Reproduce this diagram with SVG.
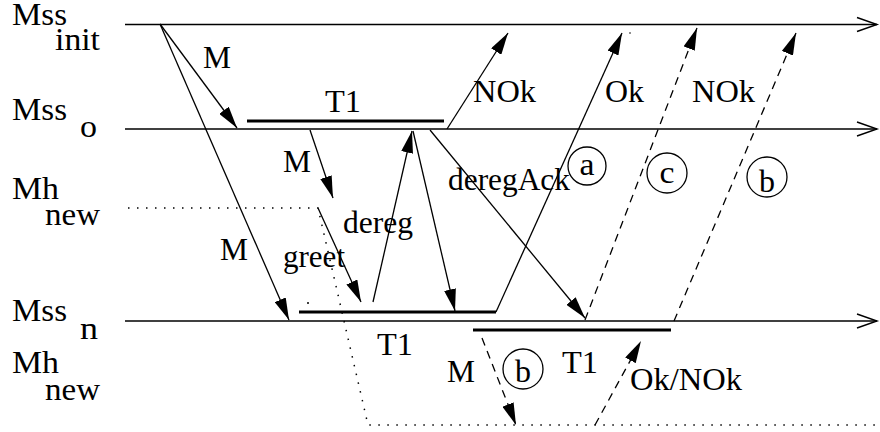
<svg xmlns="http://www.w3.org/2000/svg" width="880" height="432" viewBox="0 0 880 432">
  <style>
    text { font-family: "Liberation Serif", "Times New Roman", serif; font-size: 32px; fill: #000; }
    .axis { stroke: #000; stroke-width: 1.4; fill: none; }
    .msg { stroke: #000; stroke-width: 1.3; fill: none; marker-end: url(#head); }
    .dash { stroke: #000; stroke-width: 1.3; fill: none; stroke-dasharray: 8 6; marker-end: url(#head); }
    .dot { stroke: #000; stroke-width: 1.5; fill: none; stroke-dasharray: 1.5 7.5; }
    .timer { stroke: #000; stroke-width: 3; }
    .ring { stroke: #000; stroke-width: 1.3; fill: none; }
  </style>
  <defs>
    <marker id="head" markerUnits="userSpaceOnUse" markerWidth="23" markerHeight="12" refX="22" refY="6" orient="auto">
      <path d="M0,0 L22,6 L0,12 z" fill="#000" stroke="none"/>
    </marker>
  </defs>

  <!-- time axes -->
  <g id="axis-init">
    <line class="axis" x1="125" y1="24.5" x2="877" y2="24.5"/>
    <polyline class="axis" points="857,17.5 877,24.5 857,31.5"/>
    <text x="12" y="25" textLength="55" lengthAdjust="spacingAndGlyphs">Mss</text>
    <text x="55" y="50" textLength="45" lengthAdjust="spacingAndGlyphs">init</text>
  </g>
  <g id="axis-old">
    <line class="axis" x1="125" y1="129" x2="877" y2="129"/>
    <polyline class="axis" points="857,122 877,129 857,136"/>
    <text x="12" y="120" textLength="55" lengthAdjust="spacingAndGlyphs">Mss</text>
    <text x="80" y="137" textLength="17" lengthAdjust="spacingAndGlyphs">o</text>
  </g>
  <g id="axis-mh-top">
    <text x="12" y="199" textLength="47" lengthAdjust="spacingAndGlyphs">Mh</text>
    <text x="45" y="225" textLength="55" lengthAdjust="spacingAndGlyphs">new</text>
  </g>
  <g id="axis-new">
    <line class="axis" x1="125" y1="321" x2="877" y2="321"/>
    <polyline class="axis" points="857,314 877,321 857,328"/>
    <text x="12" y="321" textLength="55" lengthAdjust="spacingAndGlyphs">Mss</text>
    <text x="80" y="339" textLength="18" lengthAdjust="spacingAndGlyphs">n</text>
  </g>
  <g id="axis-mh-bottom">
    <text x="12" y="373" textLength="47" lengthAdjust="spacingAndGlyphs">Mh</text>
    <text x="45" y="400" textLength="55" lengthAdjust="spacingAndGlyphs">new</text>
  </g>

  <!-- mobile host path (dotted) -->
  <g id="mh-path">
    <polyline class="dot" points="128,208 318,208 368,425 877,425"/>
    <circle cx="308" cy="303" r="1" fill="#000"/>
    <circle cx="630" cy="33" r="0.8" fill="#000"/>
  </g>

  <!-- timers -->
  <g id="timer-old">
    <line class="timer" x1="247" y1="121" x2="444" y2="121"/>
    <text x="325" y="112" textLength="36" lengthAdjust="spacingAndGlyphs">T1</text>
  </g>
  <g id="timer-new-1">
    <line class="timer" x1="299" y1="312" x2="496" y2="312"/>
    <text x="377" y="355" textLength="36" lengthAdjust="spacingAndGlyphs">T1</text>
  </g>
  <g id="timer-new-2">
    <line class="timer" x1="473" y1="330" x2="671" y2="330"/>
    <text x="562" y="373" textLength="36" lengthAdjust="spacingAndGlyphs">T1</text>
  </g>

  <!-- case markers -->
  <g id="case-a">
    <circle class="ring" cx="587" cy="166" r="19"/>
    <text x="587" y="175" text-anchor="middle" textLength="15" lengthAdjust="spacingAndGlyphs">a</text>
  </g>
  <g id="case-c">
    <circle class="ring" cx="667" cy="173" r="20"/>
    <text x="667" y="183" text-anchor="middle" textLength="15" lengthAdjust="spacingAndGlyphs">c</text>
  </g>
  <g id="case-b">
    <circle class="ring" cx="767" cy="177" r="20"/>
    <text x="767" y="192" text-anchor="middle" textLength="16" lengthAdjust="spacingAndGlyphs">b</text>
  </g>
  <g id="case-b-bottom">
    <circle class="ring" cx="523" cy="369" r="20"/>
    <text x="523" y="382" text-anchor="middle" textLength="16" lengthAdjust="spacingAndGlyphs">b</text>
  </g>

  <!-- messages -->
  <g id="connectors">
    <line class="msg" x1="160" y1="24" x2="237" y2="128"/>
    <line class="msg" x1="160" y1="24" x2="289" y2="320"/>
    <line class="msg" x1="310" y1="130" x2="333" y2="198"/>
    <line class="msg" x1="318" y1="208" x2="361" y2="302"/>
    <line class="msg" x1="373" y1="302" x2="412" y2="131"/>
    <line class="msg" x1="413" y1="131" x2="455" y2="311"/>
    <line class="msg" x1="430" y1="130" x2="585" y2="318"/>
    <line class="msg" x1="447" y1="129" x2="508" y2="33"/>
    <line class="msg" x1="496" y1="312" x2="622" y2="33"/>
    <line class="dash" x1="585" y1="320" x2="697" y2="28"/>
    <line class="dash" x1="674" y1="321" x2="796" y2="33"/>
    <line class="dash" x1="482" y1="338" x2="516" y2="425"/>
    <line class="dash" x1="595" y1="425" x2="641" y2="341"/>
  </g>

  <!-- message labels -->
  <g id="labels">
    <text x="203" y="68" textLength="28" lengthAdjust="spacingAndGlyphs">M</text>
    <text x="473" y="102" textLength="63" lengthAdjust="spacingAndGlyphs">NOk</text>
    <text x="605" y="102" textLength="39" lengthAdjust="spacingAndGlyphs">Ok</text>
    <text x="692" y="102" textLength="63" lengthAdjust="spacingAndGlyphs">NOk</text>
    <text x="283" y="172" textLength="28" lengthAdjust="spacingAndGlyphs">M</text>
    <text x="448" y="190" textLength="122" lengthAdjust="spacingAndGlyphs">deregAck</text>
    <text x="343" y="233" textLength="70" lengthAdjust="spacingAndGlyphs">dereg</text>
    <text x="283" y="267" textLength="62" lengthAdjust="spacingAndGlyphs">greet</text>
    <text x="220" y="260" textLength="28" lengthAdjust="spacingAndGlyphs">M</text>
    <text x="447" y="382" textLength="28" lengthAdjust="spacingAndGlyphs">M</text>
    <text x="630" y="390" textLength="112" lengthAdjust="spacingAndGlyphs">Ok/NOk</text>
  </g>
</svg>
